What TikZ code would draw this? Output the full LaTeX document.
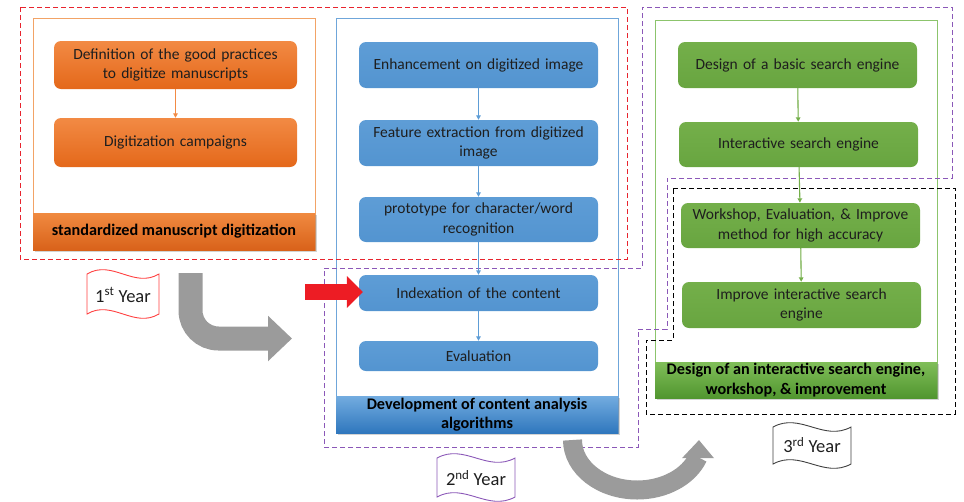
\documentclass[tikz,border=0pt]{standalone}
\usepackage{fontspec}
\setmainfont{Carlito}
\usetikzlibrary{arrows.meta,shadows}
\definecolor{txt}{HTML}{1E1E1E}
\definecolor{orA}{HTML}{F28A44}
\definecolor{orB}{HTML}{E4681A}
\definecolor{orL}{HTML}{F2A366}
\definecolor{orBandA}{HTML}{F08A40}
\definecolor{orBandB}{HTML}{D9621A}
\definecolor{blA}{HTML}{5E9DD6}
\definecolor{blB}{HTML}{5394D0}
\definecolor{blL}{HTML}{6FA6DA}
\definecolor{blBandA}{HTML}{73ACE0}
\definecolor{blBandB}{HTML}{2F77BD}
\definecolor{grA}{HTML}{74AF4A}
\definecolor{grB}{HTML}{68A540}
\definecolor{grL}{HTML}{8CC46C}
\definecolor{grBandA}{HTML}{80BE59}
\definecolor{grBandB}{HTML}{51962F}
\definecolor{redD}{HTML}{E8242E}
\definecolor{purD}{HTML}{8B58B8}
\definecolor{grayA}{HTML}{9B9B9B}
\definecolor{redA}{HTML}{ED1C24}
\begin{document}
\begin{tikzpicture}[x=1pt,y=-1pt,
  box/.style={rounded corners=7pt, align=center, text=txt, inner sep=0pt,
    font=\fontsize{15.5}{19.5}\selectfont},
  obox/.style={box, top color=orA, bottom color=orB, minimum width=243pt, text width=232pt},
  bbox/.style={box, top color=blA, bottom color=blB, minimum width=239pt, text width=232pt},
  gbox/.style={box, top color=grA, bottom color=grB, minimum width=239pt, text width=232pt},
  cont/.style={inner sep=0pt, line width=0.8pt, minimum width=282pt},
  band/.style={inner sep=0pt, minimum width=282pt, align=center, text=black,
    font=\fontsize{16.2}{19.5}\selectfont\bfseries,
    drop shadow={shadow xshift=1.5pt, shadow yshift=-2pt, opacity=0.35}},
  link/.style={line width=1.1pt, -{Triangle[width=4.5pt,length=4.5pt]}},
  dsh/.style={line width=0.9pt, dash pattern=on 5pt off 3pt},
  flag/.style={line width=0.9pt, fill=white},
  yeartxt/.style={inner sep=0pt, text=txt, font=\fontsize{18.5}{20}\selectfont},
  grayarrow/.style={draw=grayA},
  grayhead/.style={fill=grayA, draw=none}
]
\useasboundingbox (0,0) rectangle (964,501);

% containers
\node[cont, draw=orL, minimum height=232pt] (ocont) at (174,134) {};
\node[cont, draw=blL, minimum height=415pt] (bcont) at (477,225.5) {};
\node[cont, draw=grL, minimum height=378pt] (gcont) at (796,209) {};

% title bands
\node[band, top color=orBandA, bottom color=orBandB, minimum height=37pt] (oband) at (174,231.5)
  {standardized manuscript digitization};
\node[band, top color=blBandA, bottom color=blBandB, minimum height=37pt] (bband) at (477,414.5)
  {Development of content analysis\\algorithms};
\node[band, top color=grBandA, bottom color=grBandB, minimum height=36pt] (gband) at (796,380)
  {Design of an interactive search engine,\\workshop, \& improvement};

% dashed groupings
\draw[dsh, draw=redD] (20,7) rectangle (627,259);
\draw[dsh, draw=purD] (324,268) -- (642,268) -- (642,7) -- (952,7) -- (952,178) -- (667,178)
  -- (667,329) -- (638,329) -- (638,447) -- (324,447) -- cycle;
\draw[dsh, draw=black] (673,188) -- (955,188) -- (955,414) -- (646,414) -- (646,340) -- (673,340) -- cycle;

% orange boxes
\node[obox, minimum height=48pt] (o1) at (175.5,65) {Definition of the good practices\\to digitize manuscripts};
\node[obox, minimum height=49pt] (o2) at (175.5,142.5) {Digitization campaigns};

% blue boxes
\node[bbox, minimum height=46pt] (b1) at (478.5,65) {Enhancement on digitized image};
\node[bbox, minimum height=46pt] (b2) at (478.5,143) {Feature extraction from digitized\\image};
\node[bbox, minimum height=45pt] (b3) at (478.5,219.5) {prototype for character/word\\recognition};
\node[bbox, minimum height=36pt] (b4) at (478.5,293) {Indexation of the content};
\node[bbox, minimum height=30pt] (b5) at (478.5,356) {Evaluation};

% green boxes
\node[gbox, minimum height=46pt] (g1) at (797.5,65) {Design of a basic search engine};
\node[gbox, minimum height=45pt] (g2) at (798.5,144.5) {Interactive search engine};
\node[gbox, minimum height=45pt] (g3) at (800.5,225.5) {Workshop, Evaluation, \& Improve\\method for high accuracy};
\node[gbox, minimum height=46pt] (g4) at (801.5,305) {Improve interactive search\\engine};

% links
\draw[link, draw=orA, fill=orA] (o1) -- (o2);
\draw[link, draw=blA, fill=blA] (b1) -- (b2);
\draw[link, draw=blA, fill=blA] (b2) -- (b3);
\draw[link, draw=blA, fill=blA] (b3) -- (b4);
\draw[link, draw=blA, fill=blA] (b4) -- (b5);
\draw[link, draw=grA, fill=grA] (g1) -- (g2);
\draw[link, draw=grA, fill=grA] (g2) -- (g3);
\draw[link, draw=grA, fill=grA] (g3) -- (g4);

% red arrow
\coordinate (rs) at (305,292);
\draw[line width=16pt, draw=redA, -{Triangle[width=31pt,length=16pt]}] (rs) -- ([xshift=4pt]b4.west |- rs);

% gray arrows
\coordinate (a1s) at (190.5,273);
\coordinate (a1e) at (292,338.5);
\draw[grayarrow, line width=24pt, rounded corners=28pt, -{Triangle[width=44pt,length=24pt]}] (a1s) |- (a1e);
\coordinate (a2s) at (572.5,440);
\draw[grayarrow, line width=19pt] (a2s)
  arc[start angle=180, end angle=20, x radius=64.7, y radius=50] coordinate (a2e);
\fill[grayhead] ([xshift=-16pt,yshift=-1pt]a2e) -- ([xshift=1pt,yshift=17pt]a2e) -- ([xshift=16pt,yshift=-1pt]a2e) -- cycle;

% year flags
\draw[flag, draw=red!75] (87,274) .. controls (112.2,259) and (133.8,289) .. (159,274) -- (159,314)
  .. controls (133.8,329) and (112.2,299) .. (87,314) -- cycle;
\node[yeartxt] (y1) at (123,295) {1\textsuperscript{st} Year};
\draw[flag, draw=purD] (437,458) .. controls (464.3,443) and (487.7,473) .. (515,458) -- (515,497)
  .. controls (487.7,512) and (464.3,482) .. (437,497) -- cycle;
\node[yeartxt] (y2) at (476,478) {2\textsuperscript{nd} Year};
\draw[flag, draw=black!75] (773,427) .. controls (800.3,412) and (823.7,442) .. (851,427) -- (851,464)
  .. controls (823.7,479) and (800.3,449) .. (773,464) -- cycle;
\node[yeartxt] (y3) at (812,445) {3\textsuperscript{rd} Year};
\end{tikzpicture}
\end{document}
